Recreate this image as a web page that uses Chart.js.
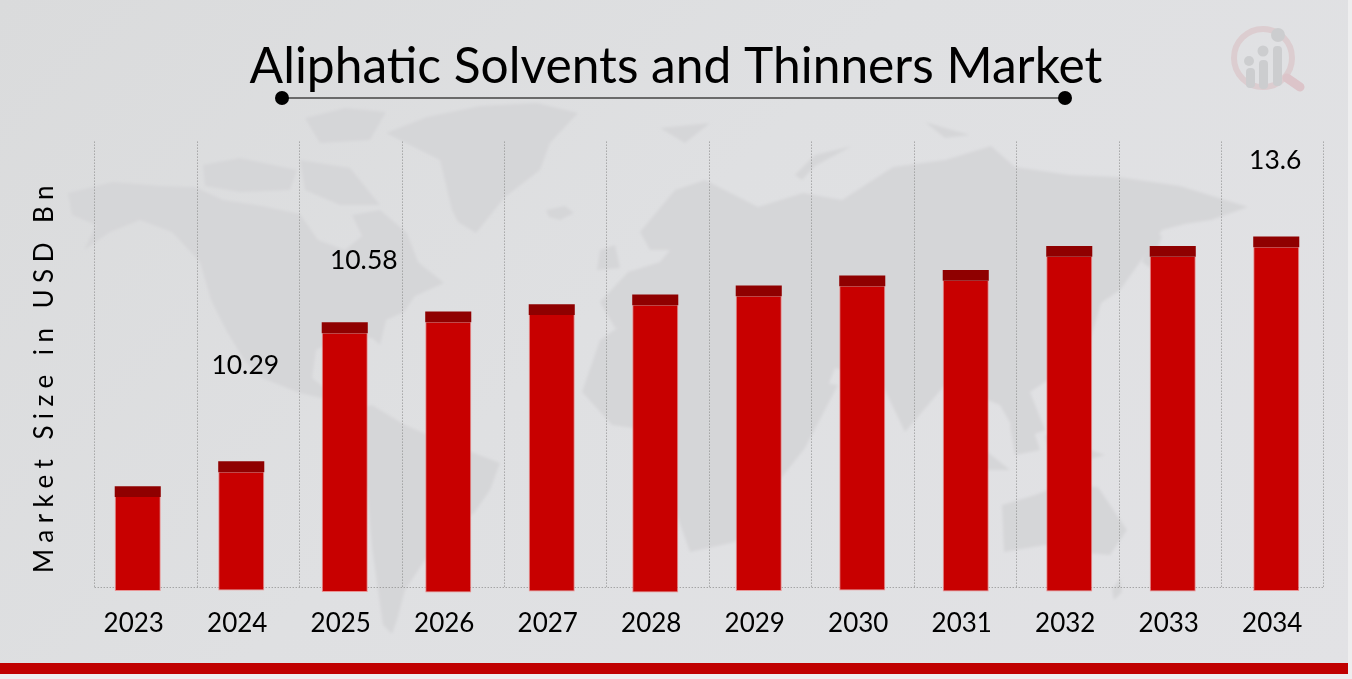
<!DOCTYPE html>
<html>
<head>
<meta charset="utf-8">
<title>Aliphatic Solvents and Thinners Market</title>
<script src="https://cdn.jsdelivr.net/npm/chart.js@4/dist/chart.umd.min.js"></script>
<style>
  html, body { margin: 0; padding: 0; width: 1352px; height: 679px; overflow: hidden; background: #eeeeef; }
  #page { position: absolute; left: 0; top: 0; width: 1348px; height: 674px; background: linear-gradient(135deg, #dadbdc 0%, #dfe0e2 45%, #e2e2e5 100%); }
  #decor { position: absolute; left: 0; top: 0; }
  #band { position: absolute; left: 0; top: 663px; width: 1348px; height: 11px; background: #c00000; }
  #pibCanvas { position: absolute; left: 0; top: 0; }
</style>
</head>
<body>
<div id="page"></div>
<svg id="decor" width="1352" height="679">
  <defs><filter id="soft"><feGaussianBlur stdDeviation="1.6"/></filter></defs>
  <!-- mapa de fundo, bem aproximado -->
  <g fill="#d5d6d8" filter="url(#soft)">
    <path d="M68,193 L113,182 L160,186 L195,187 L223,200 L262,206 L300,214 L318,240 L345,250 L362,236 L352,215 L380,210 L407,233 L418,262 L444,283 L415,296 L404,312 L386,320 L380,345 L372,338 L340,338 L316,350 L312,378 L330,392 L345,405 L330,400 L300,393 L262,378 L244,360 L226,330 L211,300 L200,262 L172,232 L140,220 L110,232 L84,250 L96,225 L72,215 Z"/>
    <path d="M345,412 L372,405 L405,425 L440,440 L500,463 L490,490 L474,513 L450,530 L425,560 L405,590 L397,620 L392,634 L383,625 L378,590 L372,547 L367,490 L345,450 L340,430 Z"/>
    <path d="M386,133 L427,117 L480,106 L537,103 L578,113 L550,143 L540,170 L505,197 L476,233 L458,222 L452,210 L440,160 Z"/>
    <path d="M203,165 L240,158 L297,170 L290,190 L240,192 L205,186 Z"/>
    <path d="M305,118 L345,108 L386,112 L370,140 L320,143 Z"/>
    <path d="M300,160 L350,168 L380,205 L340,205 L305,190 Z"/>
    <path d="M546,210 L565,206 L574,213 L560,220 L549,217 Z"/>
    <path d="M600,250 L615,245 L620,268 L597,270 Z"/>
    <path d="M640,232 L675,190 L705,180 L758,207 L803,193 L842,200 L893,167 L945,160 L991,146 L1015,167 L1070,175 L1118,177 L1180,186 L1248,207 L1211,220 L1185,224 L1162,230 L1140,262 L1120,290 L1101,303 L1090,340 L1060,372 L1030,392 L1045,430 L1020,440 L1000,405 L975,395 L945,385 L905,432 L880,380 L835,368 L815,420 L775,372 L742,340 L700,332 L650,318 L615,328 L600,302 L628,272 L660,262 L670,250 L650,250 Z"/>
    <path d="M600,340 L640,312 L700,325 L760,335 L790,378 L838,385 L805,448 L778,482 L760,515 L735,542 L690,552 L668,490 L660,432 L612,425 L582,392 Z"/>
    <path d="M795,175 L815,155 L852,146 L815,166 L802,180 Z"/>
    <path d="M660,128 L710,123 L685,143 Z"/>
    <path d="M925,122 L945,128 L970,135 L945,138 Z"/>
    <path d="M1002,505 L1035,495 L1060,485 L1098,487 L1127,530 L1110,555 L1075,552 L1045,545 L1004,552 Z"/>
    <path d="M1142,262 L1155,232 L1162,236 L1150,268 Z"/>
    <path d="M725,460 L732,445 L737,475 L730,488 Z"/>
    <path d="M945,430 L985,450 L1010,470 L985,470 Z"/>
    <path d="M1010,425 L1030,420 L1040,450 L1015,455 Z"/>
    <path d="M1045,435 L1105,455 L1080,462 L1050,455 Z"/>
    <path d="M1112,590 L1120,578 L1122,592 L1114,600 Z"/>
  </g>
  <!-- logo -->
  <circle cx="1263" cy="58" r="29" fill="none" stroke="#dccdd0" stroke-width="6"/>
  <path d="M1287,78 L1300,87" stroke="#dcc4c9" stroke-width="9" stroke-linecap="round"/>
  <g fill="#cccdcf">
    <rect x="1246" y="68" width="9" height="20" rx="4"/>
    <rect x="1259" y="60" width="9" height="29" rx="4"/>
    <rect x="1273" y="46" width="9" height="40" rx="4"/>
    <circle cx="1249" cy="61" r="5"/>
    <circle cx="1263" cy="51" r="5.5"/>
    <circle cx="1278" cy="35" r="7"/>
  </g>
  <!-- linha do titulo -->
  <line x1="282" y1="98" x2="1065" y2="98" stroke="#6a6a6a" stroke-width="2"/>
  <circle cx="282" cy="98" r="7" fill="#000"/>
  <circle cx="1065" cy="98" r="7" fill="#000"/>
</svg>
<div id="band"></div>
<canvas id="pibCanvas" width="1352" height="679"></canvas>
<script>
const titleText = 'Aliphatic Solvents and Thinners Market';
const axisTitle = 'Market Size in USD Bn';
const years = ['2023', '2024', '2025', '2026', '2027', '2028', '2029', '2030', '2031', '2032', '2033', '2034'];

// valores: as alturas nao batem com os rotulos, entao ficam separados
const barStart = [-0.16, -0.14, -0.19, -0.21, -0.17, -0.21, -0.16, -0.14, -0.17, -0.17, -0.17, -0.16];
const barEnd = [3.49, 4.45, 9.85, 10.27, 10.55, 10.93, 11.28, 11.67, 11.88, 12.81, 12.81, 13.18];
const capEnd = [3.91, 4.88, 10.27, 10.69, 10.97, 11.35, 11.70, 12.09, 12.30, 13.23, 13.23, 13.60];
const gridSlots = [0, 1, 2, 3, 4, 5, 6, 7, 8, 9, 10, 11, 12];

const shownYears = ['2024', '2025', '2034'];
const shownLabels = ['10.29', '10.58', '13.6'];

const textFont = 'Lato, Carlito, sans-serif';

const extras = {
  id: 'extras',
  beforeDatasetsDraw(chart) {
    // linha de base pontilhada, atras das barras
    const ctx = chart.ctx;
    const g = chart.scales.x2;
    const y = chart.scales.y;
    ctx.save();
    ctx.strokeStyle = '#8a8a8a';
    ctx.setLineDash([1, 2]);
    ctx.beginPath();
    ctx.moveTo(g.getPixelForValue(gridSlots[0]), y.getPixelForValue(0) + 0.5);
    ctx.lineTo(g.getPixelForValue(gridSlots[gridSlots.length - 1]), y.getPixelForValue(0) + 0.5);
    ctx.stroke();
    ctx.restore();
  },
  afterDraw(chart) {
    const ctx = chart.ctx;
    const x = chart.scales.x;
    const y = chart.scales.y;

    // rotulos soltos, fora do topo da barra como na figura
    const offsets = { '2024': [4, -96], '2025': [19, -62], '2034': [-1, -76] };
    ctx.save();
    ctx.font = '26.5px ' + textFont;
    ctx.fillStyle = '#000';
    ctx.textAlign = 'center';
    ctx.textBaseline = 'middle';
    shownYears.forEach((yr, i) => {
      const idx = years.indexOf(yr);
      const off = offsets[yr];
      ctx.fillText(shownLabels[i], x.getPixelForValue(idx) + off[0], y.getPixelForValue(capEnd[idx]) + off[1]);
    });
    ctx.restore();

    // titulo do eixo com letras espacadas
    ctx.save();
    ctx.translate(45, 376);
    ctx.rotate(-Math.PI / 2);
    ctx.font = '26px ' + textFont;
    ctx.letterSpacing = '6.45px';
    ctx.fillStyle = '#000';
    ctx.textAlign = 'center';
    ctx.textBaseline = 'middle';
    ctx.fillText(axisTitle, 0, 0);
    ctx.restore();
  }
};

new Chart(document.getElementById('pibCanvas'), {
  type: 'bar',
  data: {
    labels: years,
    datasets: [
      {
        label: 'Market Size',
        data: years.map((_, i) => [barStart[i], barEnd[i]]),
        backgroundColor: '#c80000',
        borderColor: 'rgba(238,120,120,0.75)',
        borderWidth: 1,
        borderSkipped: 'top',
        grouped: false,
        clip: false,
        order: 2
      },
      {
        label: 'Cap',
        data: years.map((_, i) => [barEnd[i], capEnd[i]]),
        backgroundColor: '#8f0000',
        borderWidth: 0,
        grouped: false,
        clip: false,
        order: 1
      }
    ]
  },
  options: {
    responsive: false,
    animation: false,
    barPercentage: 0.445,
    categoryPercentage: 1,
    plugins: {
      legend: { display: false },
      tooltip: { enabled: false },
      title: {
        display: true,
        text: titleText,
        color: '#000',
        font: { family: textFont, size: 49.7, weight: 'normal' },
        padding: { top: 37, bottom: 45 }
      }
    },
    scales: {
      x: {
        position: 'bottom',
        grid: { display: false },
        border: { display: false },
        ticks: {
          color: '#000',
          font: { family: textFont, size: 26 },
          labelOffset: -4,
          padding: 13,
          maxRotation: 0,
          autoSkip: false
        },
        afterFit(scale) { scale.height = 92; }
      },
      // escala so para a grade, que nao acompanha as barras na figura
      x2: {
        type: 'linear',
        position: 'bottom',
        bounds: 'data',
        offset: false,
        min: -0.085,
        max: 12.04,
        grid: { color: '#8a8a8a', lineWidth: 1, drawTicks: false, offset: false },
        border: { display: false, dash: [1, 2] },
        ticks: { display: false },
        afterBuildTicks(scale) { scale.ticks = gridSlots.map(v => ({ value: v })); },
        afterFit(scale) { scale.height = 0; }
      },
      y: {
        min: 0,
        max: 17.28,
        grid: { display: false },
        border: { display: false },
        ticks: { display: false },
        afterFit(scale) { scale.width = 86; }
      },
      yRight: {
        position: 'right',
        grid: { display: false },
        border: { display: false },
        ticks: { display: false },
        afterFit(scale) { scale.width = 24; }
      }
    }
  },
  plugins: [extras]
});
</script>
</body>
</html>
